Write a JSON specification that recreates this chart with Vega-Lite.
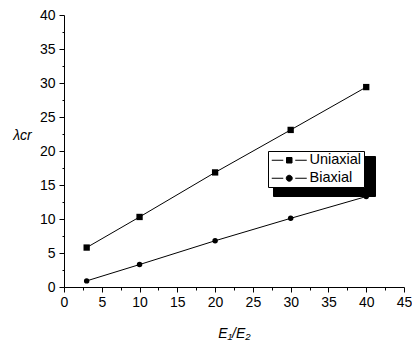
{
  "$schema": "https://vega.github.io/schema/vega-lite/v6.json",
  "width": 340,
  "height": 272,
  "autosize": "none",
  "padding": {"left": 64, "top": 15, "right": 8, "bottom": 58},
  "background": "white",
  "config": {
    "view": {"stroke": null},
    "font": "Liberation Sans",
    "axis": {"grid": false, "domainColor": "black", "tickColor": "black", "labelColor": "black", "titleColor": "black", "labelFont": "Liberation Sans", "titleFont": "Liberation Sans", "labelFontSize": 14, "titleFontSize": 14, "titleFontWeight": "normal", "titleFontStyle": "italic"}
  },
  "data": {"values": [
    {"ratio": 3, "lambda": 5.8, "series": "Uniaxial"},
    {"ratio": 10, "lambda": 10.3, "series": "Uniaxial"},
    {"ratio": 20, "lambda": 16.85, "series": "Uniaxial"},
    {"ratio": 30, "lambda": 23.1, "series": "Uniaxial"},
    {"ratio": 40, "lambda": 29.4, "series": "Uniaxial"},
    {"ratio": 3, "lambda": 0.9, "series": "Biaxial"},
    {"ratio": 10, "lambda": 3.3, "series": "Biaxial"},
    {"ratio": 20, "lambda": 6.8, "series": "Biaxial"},
    {"ratio": 30, "lambda": 10.1, "series": "Biaxial"},
    {"ratio": 40, "lambda": 13.3, "series": "Biaxial"}
  ]},
  "encoding": {
    "x": {"field": "ratio", "type": "quantitative", "scale": {"domain": [0, 45], "nice": false},
      "axis": {"title": "E₁/E₂", "values": [0,2.5,5,7.5,10,12.5,15,17.5,20,22.5,25,27.5,30,32.5,35,37.5,40,42.5,45],
        "labelExpr": "datum.value % 5 === 0 ? datum.label : ''",
        "tickSize": {"condition": {"test": "datum.value % 5 === 0", "value": 5}, "value": 3},
        "labelPadding": 3, "labelFlush": false, "labelOverlap": false,
        "titleX": 170, "titleY": 50, "titleBaseline": "alphabetic"}},
    "y": {"field": "lambda", "type": "quantitative", "scale": {"domain": [0, 40], "nice": false},
      "axis": {"title": "λcr", "values": [0,2.5,5,7.5,10,12.5,15,17.5,20,22.5,25,27.5,30,32.5,35,37.5,40],
        "labelExpr": "datum.value % 5 === 0 ? datum.label : ''",
        "tickSize": {"condition": {"test": "datum.value % 5 === 0", "value": 5}, "value": 2},
        "labelPadding": 4, "labelFlush": false, "labelOverlap": false,
        "titleAngle": 0, "titleX": -42, "titleY": 120, "titleAlign": "center", "titleBaseline": "middle"}}
  },
  "layer": [
    {"mark": {"type": "line", "color": "black", "strokeWidth": 1},
     "encoding": {"detail": {"field": "series"}}},
    {"mark": {"type": "point", "filled": true, "color": "black", "opacity": 1},
     "encoding": {
       "shape": {"field": "series", "scale": {"domain": ["Uniaxial", "Biaxial"], "range": ["square", "circle"]}, "legend": null},
       "size": {"field": "series", "scale": {"domain": ["Uniaxial", "Biaxial"], "range": [40, 30]}, "legend": null}
     }},
    {"mark": {"type": "point", "filled": true, "opacity": 0},
     "encoding": {
       "shape": {"field": "series", "scale": {"domain": ["Uniaxial", "Biaxial"], "range": [
         "M-3.5,0H-1.2M1.2,0H3.5M-0.55,-0.55H0.55V0.55H-0.55Z",
         "M-3.5,0H-1.2M1.2,0H3.5M0.6,0A0.6,0.6,0,1,1,-0.6,0A0.6,0.6,0,1,1,0.6,0Z"]},
         "legend": {"title": null, "orient": "none", "legendX": 204, "legendY": 136, "zindex": 2,
           "fillColor": "white", "strokeColor": "black", "padding": 2,
           "symbolSize": 100, "symbolOpacity": 1, "symbolFillColor": "black", "symbolStrokeColor": "black", "symbolStrokeWidth": 1,
           "symbolOffset": 12, "labelOffset": 13, "labelFont": "Liberation Sans", "labelFontSize": 14.5, "labelColor": "black", "rowPadding": 3}},
       "color": {"field": "series", "scale": {"range": ["black", "black"]},
         "legend": {"title": null, "orient": "none", "legendX": 209, "legendY": 141, "zindex": 1,
           "fillColor": "black", "strokeColor": "black", "padding": 2,
           "symbolType": "square", "symbolSize": 121, "symbolOpacity": 1, "symbolFillColor": "black", "symbolStrokeColor": "black",
           "symbolOffset": 0, "labelOffset": 83, "labelExpr": "''", "labelFontSize": 14.5, "rowPadding": 2}}
     }}
  ],
  "resolve": {"scale": {"shape": "independent", "size": "independent", "color": "independent"}, "legend": {"shape": "independent"}}
}
